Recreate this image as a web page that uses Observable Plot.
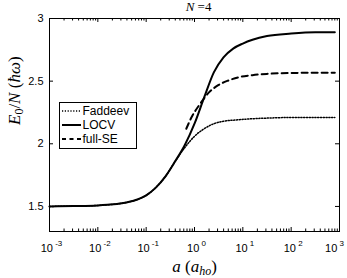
<!DOCTYPE html>
<html>
<head>
<meta charset="utf-8">
<script src="https://cdn.jsdelivr.net/npm/d3@7"></script>
<script src="https://cdn.jsdelivr.net/npm/@observablehq/plot@0.6"></script>
<style>
  html, body { margin: 0; padding: 0; background: #fff; }
  #chart svg { display: block; }
</style>
</head>
<body>
<div id="chart"></div>
<script>
// ---- data ----
const locvA = [0.001, 0.00316, 0.01, 0.0158, 0.0316, 0.0631, 0.1, 0.158, 0.251, 0.398, 0.631, 1, 1.585, 2.512, 3.981, 6.31, 10, 15.85, 31.62, 100, 316.2, 800];
const locvE = [1.500, 1.503, 1.508, 1.513, 1.525, 1.553, 1.588, 1.65, 1.74, 1.86, 1.99, 2.16, 2.37, 2.57, 2.69, 2.76, 2.80, 2.83, 2.86, 2.88, 2.89, 2.89];

const faddeevA = [0.001, 0.00316, 0.01, 0.0158, 0.0316, 0.0631, 0.1, 0.158, 0.251, 0.398, 0.631, 1, 1.585, 2.512, 3.981, 7.08, 15.85, 31.62, 100, 316.2, 800];
const faddeevE = [1.500, 1.503, 1.508, 1.513, 1.525, 1.553, 1.588, 1.65, 1.74, 1.86, 1.97, 2.06, 2.12, 2.16, 2.18, 2.19, 2.20, 2.205, 2.21, 2.21, 2.21];

const fullSeA = [0.676, 0.891, 1.259, 1.995, 3.162, 5.012, 7.943, 15.85, 31.62, 100, 316.2, 800];
const fullSeE = [2.12, 2.22, 2.31, 2.41, 2.47, 2.505, 2.53, 2.548, 2.558, 2.565, 2.567, 2.567];

const xMajor = [1e-3, 1e-2, 1e-1, 1e0, 1e1, 1e2, 1e3];
const xExponents = ["-3", "-2", "-1", "0", "1", "2", "3"];
const xMinor = [];
for (let e = -3; e < 3; e++) for (let k = 2; k <= 9; k++) xMinor.push(k * Math.pow(10, e));
const yTicks = [1.5, 2, 2.5, 3];
const yTickLabels = ["1.5", "2", "2.5", "3"];

const seriesNames = ["Faddeev", "LOCV", "full-SE"];

// ---- build tables ----
const zip = (A, E) => A.map((a, i) => ({a, e: E[i]}));
const faddeev = zip(faddeevA, faddeevE);
const locv = zip(locvA, locvE);
const fullSe = zip(fullSeA, fullSeE);
const xLabels = xMajor.map((v, i) => ({v, ex: xExponents[i], last: i === xMajor.length - 1}));

const W = 347, H = 278;
const mL = 49, mR = 8, mT = 18, mB = 47;
const innerW = W - mL - mR, innerH = H - mT - mB;
const serif = "'Liberation Serif', 'Times New Roman', serif";

const plot = Plot.plot({
  width: W, height: H,
  marginLeft: mL, marginRight: mR, marginTop: mT, marginBottom: mB,
  style: {background: "#fff", fontFamily: "'Liberation Sans', Arial, sans-serif", color: "#000"},
  x: {type: "log", domain: [1e-3, 1e3], axis: null},
  y: {domain: [1.3, 3], axis: null},
  marks: [
    // curves
    Plot.line(faddeev, {x: "a", y: "e", curve: "monotone-x", stroke: "#000", strokeWidth: 1.5, strokeDasharray: "1.2,1.6"}),
    Plot.line(fullSe, {x: "a", y: "e", curve: "monotone-x", stroke: "#000", strokeWidth: 2, strokeDasharray: "6,4"}),
    Plot.line(locv, {x: "a", y: "e", curve: "monotone-x", stroke: "#000", strokeWidth: 2}),
    // inward ticks, x (bottom & top)
    Plot.tickX(xMajor, {x: d => d, insetTop: innerH - 4, stroke: "#000", strokeWidth: 1}),
    Plot.tickX(xMajor, {x: d => d, insetBottom: innerH - 4, stroke: "#000", strokeWidth: 1}),
    Plot.tickX(xMinor, {x: d => d, insetTop: innerH - 2.5, stroke: "#000", strokeWidth: 1}),
    Plot.tickX(xMinor, {x: d => d, insetBottom: innerH - 2.5, stroke: "#000", strokeWidth: 1}),
    // inward ticks, y (left & right)
    Plot.tickY(yTicks, {y: d => d, insetRight: innerW - 4, stroke: "#000", strokeWidth: 1}),
    Plot.tickY(yTicks, {y: d => d, insetLeft: innerW - 4, stroke: "#000", strokeWidth: 1}),
    Plot.frame({stroke: "#000", strokeWidth: 1}),
    // y tick labels
    Plot.text(yTicks, {y: d => d, frameAnchor: "left", textAnchor: "end", dx: -6, text: (d, i) => yTickLabels[i], fontSize: 11, fill: "#000"}),
    // x tick labels (placeholders, converted to base+superscript below)
    Plot.text(xLabels.filter(d => !d.last), {x: "v", frameAnchor: "bottom", lineAnchor: "bottom", dy: 20, dx: 2, textAnchor: "middle", text: d => "XT" + d.ex, fontSize: 11, fill: "#000"}),
    Plot.text(xLabels.filter(d => d.last), {x: "v", frameAnchor: "bottom", lineAnchor: "bottom", dy: 20, dx: -5, textAnchor: "middle", text: d => "XT" + d.ex, fontSize: 11, fill: "#000"}),
    // title
    Plot.text(["TITLE"], {frameAnchor: "top", lineAnchor: "bottom", dy: -8, dx: 4, text: d => d, fontSize: 13, fill: "#000", fontFamily: serif}),
    // x label
    Plot.text(["XLABEL"], {frameAnchor: "bottom", lineAnchor: "bottom", dy: 40, dx: 0, text: d => d, fontSize: 17, fill: "#000", fontFamily: serif}),
    // y label
    Plot.text(["YLABEL"], {frameAnchor: "left", lineAnchor: "bottom", rotate: -90, dx: -30, text: d => d, fontSize: 17, fill: "#000", fontFamily: serif})
  ]
});

// ---- rich text for labels ----
const svg = d3.select(plot);
function rich(placeholder, parts) {
  svg.selectAll("text").filter(function () { return this.textContent === placeholder; }).each(function () {
    const t = d3.select(this);
    t.text(null);
    let shift = 0;
    for (const p of parts) {
      const ts = t.append("tspan").text(p.t);
      if (p.i) ts.attr("font-style", "italic");
      if (p.size) ts.attr("font-size", p.size);
      const target = p.shift || 0;
      if (target !== shift) { ts.attr("dy", target - shift); shift = target; }
    }
  });
}
xExponents.forEach(ex => rich("XT" + ex, [{t: "10"}, {t: "\u2009"}, {t: ex, size: 8, shift: -6}]));
rich("TITLE", [{t: "N", i: true}, {t: " =4"}]);
rich("XLABEL", [{t: "a", i: true}, {t: " ("}, {t: "a", i: true}, {t: "ho", i: true, size: 12, shift: 3}, {t: ")"}]);
rich("YLABEL", [{t: "E", i: true}, {t: "0", size: 12, shift: 3}, {t: "/"}, {t: "N", i: true}, {t: " ("}, {t: "\u0127", i: true}, {t: "\u03C9", i: true}, {t: ")"}]);

// ---- legend (inside the axes, top-left) ----
const lg = svg.append("g")
  .attr("font-family", "'Liberation Sans', Arial, sans-serif")
  .attr("font-size", 12)
  .attr("text-anchor", "start");
lg.append("rect").attr("x", 59.5).attr("y", 102.5).attr("width", 77).attr("height", 46).attr("fill", "#fff").attr("stroke", "#000").attr("stroke-width", 1);
const styles = [
  {w: 1.5, dash: "1.2,1.6"},
  {w: 2, dash: null},
  {w: 2, dash: "4,3.5"}
];
seriesNames.forEach((name, i) => {
  const y = 111 + i * 14;
  const ln = lg.append("line").attr("x1", 62).attr("x2", 81).attr("y1", y).attr("y2", y).attr("stroke", "#000").attr("stroke-width", styles[i].w);
  if (styles[i].dash) ln.attr("stroke-dasharray", styles[i].dash);
  lg.append("text").attr("x", 82.5).attr("y", y).attr("dy", "0.35em").attr("fill", "#000").text(name);
});

document.getElementById("chart").appendChild(plot);
</script>
</body>
</html>
